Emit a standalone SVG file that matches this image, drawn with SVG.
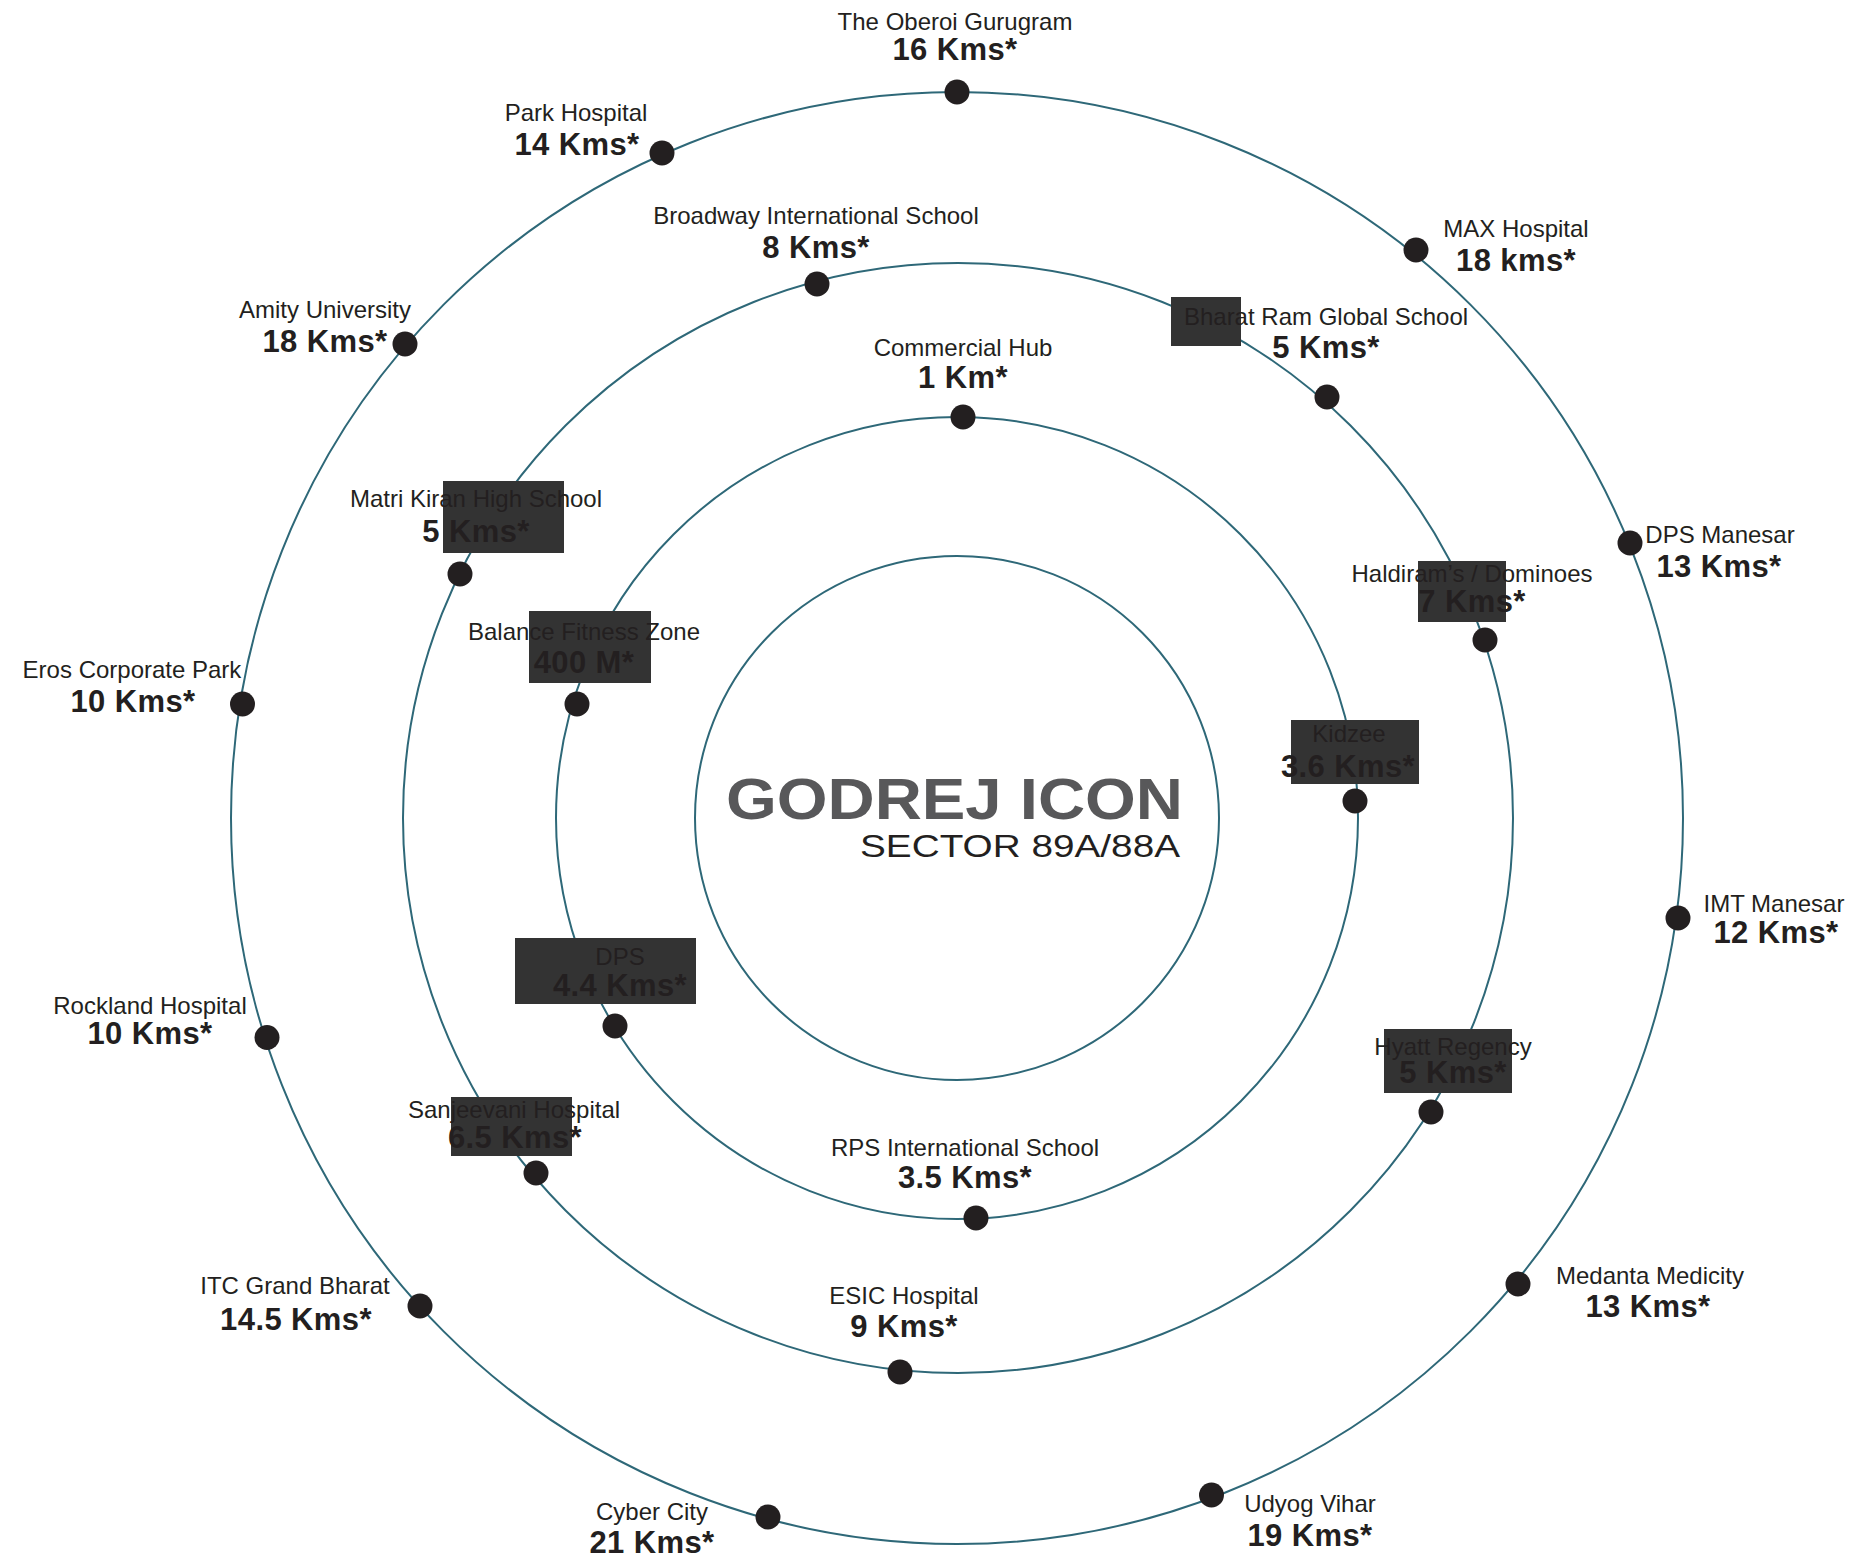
<svg xmlns="http://www.w3.org/2000/svg" width="1858" height="1555" viewBox="0 0 1858 1555">
<style>
.ring{fill:none;stroke:#2e6878;stroke-width:2}
.dot{fill:#231f20}
.box{fill:#333333}
.nm{font-family:"Liberation Sans",Arial,sans-serif;font-size:24px;fill:#231f20;text-anchor:middle}
.ds{font-family:"Liberation Sans",Arial,sans-serif;font-size:31px;font-weight:bold;fill:#231f20;text-anchor:middle;letter-spacing:0.4px}
.t1{font-family:"Liberation Sans",Arial,sans-serif;font-size:57px;font-weight:bold;fill:#58585a}
.t2{font-family:"Liberation Sans",Arial,sans-serif;font-size:32px;fill:#231f20}
</style>
<rect width="1858" height="1555" fill="#ffffff"/>
<g id="rings">
<circle class="ring" cx="957" cy="818" r="262"/>
<circle class="ring" cx="957" cy="818" r="401"/>
<circle class="ring" cx="958" cy="818" r="555"/>
<circle class="ring" cx="957" cy="818" r="726"/>
</g>
<g id="center">
<text class="t1" x="726" y="819" textLength="457" lengthAdjust="spacingAndGlyphs">GODREJ ICON</text>
<text class="t2" x="860" y="857" textLength="320" lengthAdjust="spacingAndGlyphs">SECTOR 89A/88A</text>
</g>
<g id="oberoi"><text class="nm" x="955" y="30">The Oberoi Gurugram</text><text class="ds" x="955" y="60">16 Kms*</text><circle class="dot" cx="957" cy="92" r="12.5"/></g>
<g id="park"><text class="nm" x="576" y="121">Park Hospital</text><text class="ds" x="577" y="155">14 Kms*</text><circle class="dot" cx="662" cy="153" r="12.5"/></g>
<g id="amity"><text class="nm" x="325" y="318">Amity University</text><text class="ds" x="325" y="352">18 Kms*</text><circle class="dot" cx="405" cy="344" r="12.5"/></g>
<g id="eros"><text class="nm" x="132" y="678">Eros Corporate Park</text><text class="ds" x="133" y="712">10 Kms*</text><circle class="dot" cx="242.5" cy="704" r="12.5"/></g>
<g id="rockland"><text class="nm" x="150" y="1014">Rockland Hospital</text><text class="ds" x="150" y="1044">10 Kms*</text><circle class="dot" cx="267" cy="1037.5" r="12.5"/></g>
<g id="itc"><text class="nm" x="295" y="1294">ITC Grand Bharat</text><text class="ds" x="296" y="1330">14.5 Kms*</text><circle class="dot" cx="420" cy="1306" r="12.5"/></g>
<g id="cyber"><text class="nm" x="652" y="1520">Cyber City</text><text class="ds" x="652" y="1553">21 Kms*</text><circle class="dot" cx="768" cy="1517" r="12.5"/></g>
<g id="udyog"><text class="nm" x="1310" y="1512">Udyog Vihar</text><text class="ds" x="1310" y="1546">19 Kms*</text><circle class="dot" cx="1211.5" cy="1495" r="12.5"/></g>
<g id="medanta"><text class="nm" x="1650" y="1284">Medanta Medicity</text><text class="ds" x="1648" y="1317">13 Kms*</text><circle class="dot" cx="1518" cy="1284" r="12.5"/></g>
<g id="imt"><text class="nm" x="1774" y="912">IMT Manesar</text><text class="ds" x="1776" y="943">12 Kms*</text><circle class="dot" cx="1678" cy="918" r="12.5"/></g>
<g id="dpsmanesar"><text class="nm" x="1720" y="543">DPS Manesar</text><text class="ds" x="1719" y="577">13 Kms*</text><circle class="dot" cx="1630" cy="543" r="12.5"/></g>
<g id="max"><text class="nm" x="1516" y="237">MAX Hospital</text><text class="ds" x="1516" y="271">18 kms*</text><circle class="dot" cx="1416" cy="250" r="12.5"/></g>
<g id="broadway"><text class="nm" x="816" y="224">Broadway International School</text><text class="ds" x="816" y="258">8 Kms*</text><circle class="dot" cx="817" cy="284" r="12.5"/></g>
<g id="bharatram"><rect class="box" x="1171" y="297" width="70" height="49"/><text class="nm" x="1326" y="325">Bharat Ram Global School</text><text class="ds" x="1326" y="358">5 Kms*</text><circle class="dot" cx="1327" cy="397" r="12.5"/></g>
<g id="haldiram"><rect class="box" x="1418" y="561" width="88" height="61"/><text class="nm" x="1472" y="582">Haldiram’s / Dominoes</text><text class="ds" x="1472" y="612">7 Kms*</text><circle class="dot" cx="1485" cy="640" r="12.5"/></g>
<g id="hyatt"><rect class="box" x="1384" y="1029" width="128" height="64"/><text class="nm" x="1453" y="1055">Hyatt Regency</text><text class="ds" x="1453" y="1083">5 Kms*</text><circle class="dot" cx="1431" cy="1112" r="12.5"/></g>
<g id="esic"><text class="nm" x="904" y="1304">ESIC Hospital</text><text class="ds" x="904" y="1337">9 Kms*</text><circle class="dot" cx="900" cy="1372" r="12.5"/></g>
<g id="sanjeevani"><rect class="box" x="451" y="1097" width="121" height="59"/><text class="nm" x="514" y="1118">Sanjeevani Hospital</text><text class="ds" x="515" y="1148">6.5 Kms*</text><circle class="dot" cx="536" cy="1173" r="12.5"/></g>
<g id="matri"><rect class="box" x="443" y="481" width="121" height="72"/><text class="nm" x="476" y="507">Matri Kiran High School</text><text class="ds" x="476" y="542">5 Kms*</text><circle class="dot" cx="460" cy="574" r="12.5"/></g>
<g id="commercial"><text class="nm" x="963" y="356">Commercial Hub</text><text class="ds" x="963" y="388">1 Km*</text><circle class="dot" cx="963" cy="417" r="12.5"/></g>
<g id="kidzee"><rect class="box" x="1291" y="720" width="128" height="64"/><text class="nm" x="1349" y="742">Kidzee</text><text class="ds" x="1348" y="777">3.6 Kms*</text><circle class="dot" cx="1355" cy="801" r="12.5"/></g>
<g id="rps"><text class="nm" x="965" y="1156">RPS International School</text><text class="ds" x="965" y="1188">3.5 Kms*</text><circle class="dot" cx="976" cy="1218" r="12.5"/></g>
<g id="dps"><rect class="box" x="515" y="938" width="181" height="66"/><text class="nm" x="620" y="965">DPS</text><text class="ds" x="620" y="996">4.4 Kms*</text><circle class="dot" cx="615" cy="1026" r="12.5"/></g>
<g id="balance"><rect class="box" x="529" y="611" width="122" height="72"/><text class="nm" x="584" y="640">Balance Fitness Zone</text><text class="ds" x="584" y="673">400 M*</text><circle class="dot" cx="577" cy="704" r="12.5"/></g>
</svg>
